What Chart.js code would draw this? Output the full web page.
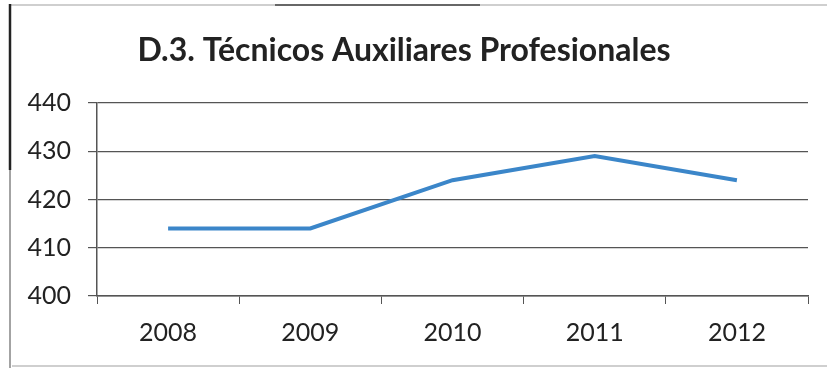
<!DOCTYPE html>
<html>
<head>
<meta charset="utf-8">
<script src="https://cdn.jsdelivr.net/npm/chart.js@4/dist/chart.umd.min.js"></script>
<style>
  html, body { margin: 0; padding: 0; background: #fff; }
  #wrap { width: 827px; height: 368px; position: relative; }
</style>
</head>
<body>
<div id="wrap"><canvas id="chart"></canvas></div>
<script>
const years = ['2008', '2009', '2010', '2011', '2012']
const tecnicos = [414, 414, 424, 429, 424]
const yTicks = [400, 410, 420, 430, 440]

// page frame around the figure
const framePlugin = {
  id: 'frame',
  beforeDraw(chart) {
    const ctx = chart.ctx
    ctx.save()
    ctx.lineWidth = 2
    ctx.strokeStyle = '#cfcfcf'
    ctx.beginPath()
    ctx.moveTo(10, 5); ctx.lineTo(827, 5)
    ctx.moveTo(12, 366); ctx.lineTo(827, 366)
    ctx.stroke()
    ctx.strokeStyle = '#444'
    ctx.lineWidth = 1.5
    ctx.beginPath()
    ctx.moveTo(275, 5); ctx.lineTo(480, 5)
    ctx.stroke()
    // left edge: heavy at the top, thinner further down
    ctx.strokeStyle = '#222'
    ctx.lineWidth = 2.5
    ctx.beginPath()
    ctx.moveTo(10, 4); ctx.lineTo(10, 170)
    ctx.stroke()
    ctx.strokeStyle = '#666'
    ctx.lineWidth = 1.2
    ctx.beginPath()
    ctx.moveTo(10, 170); ctx.lineTo(10, 368)
    ctx.stroke()
    ctx.restore()
  }
}

const ctx = document.getElementById('chart').getContext('2d')
new Chart(ctx, {
  type: 'line',
  data: {
    labels: years,
    datasets: [{
      label: 'Técnicos Auxiliares Profesionales',
      data: tecnicos,
      borderColor: '#3b86c9',
      borderWidth: 4,
      pointRadius: 0,
      tension: 0,
      fill: false,
    }]
  },
  options: {
    responsive: true,
    maintainAspectRatio: false,
    animation: false,
    layout: { padding: { left: 0, right: 19, top: 0, bottom: 0 } },
    plugins: {
      legend: { display: false },
      tooltip: { enabled: false },
      title: {
        display: true,
        text: 'D.3. Técnicos Auxiliares Profesionales',
        color: '#222',
        font: { family: 'Lato', size: 32, weight: 'bold' },
        padding: { top: 31, bottom: 33.6 },
      }
    },
    scales: {
      x: {
        offset: true,
        grid: {
          offset: true,
          drawOnChartArea: false,
          drawTicks: true,
          tickLength: 8,
          color: '#555',
        },
        border: { display: true, color: '#555', width: 1.5 },
        ticks: {
          color: '#222',
          font: { family: 'Lato', size: 25 },
          padding: 14,
        },
        afterFit(scale) { scale.height = 72 }
      },
      y: {
        min: 400,
        max: 440,
        afterBuildTicks(scale) { scale.ticks = yTicks.map(v => ({ value: v })) },
        grid: {
          color: '#555',
          lineWidth: 1.2,
          drawTicks: true,
          tickLength: 9,
        },
        border: { display: true, color: '#555', width: 1.5 },
        ticks: {
          color: '#222',
          font: { family: 'Lato', size: 25 },
          padding: 17,
        },
        afterFit(scale) { scale.width = 97 }
      }
    }
  },
  plugins: [framePlugin]
})
</script>
</body>
</html>
